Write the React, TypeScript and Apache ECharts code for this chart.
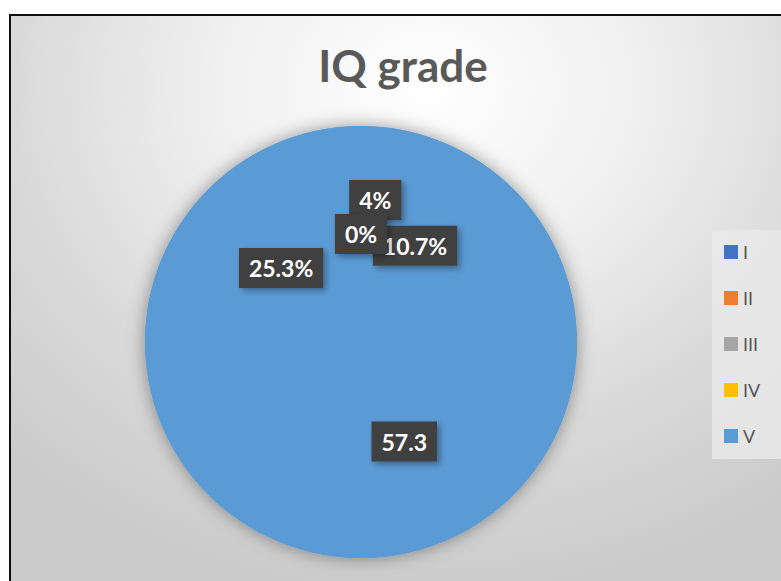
import React, { useEffect, useRef } from "react";
import * as echarts from "echarts";

const categories = ["I", "II", "III", "IV", "V"];
// slice order as drawn clockwise from 12 o'clock
const sliceNames = ["I", "II", "III", "IV", "V"];
const sliceValues = [4, 10.7, 57.3, 25.3, 0];
const sliceLabels = ["4%", "10.7%", "57.3", "25.3%", "0%"];
const legendColors = ["#4472C4", "#ED7D31", "#A5A5A5", "#FFC000", "#5B9BD5"];
const pieColor = "#5B9BD5";
const labelOffsets: Record<number, number[]> = {
  0: [0, -32],
  1: [-9, -5],
  2: [6, -5],
  3: [1, 2],
};

const CX = 361;
const CY = 342;
const R = 216;

const labelStyle = {
  fontFamily: "Lato",
  fontWeight: "bold",
  fontSize: 23,
  color: "#ffffff",
  backgroundColor: "#404040",
  padding: [9, 10, 8, 10],
  shadowBlur: 6,
  shadowOffsetX: 3,
  shadowOffsetY: 3,
  shadowColor: "rgba(0,0,0,0.35)",
};

export default function App() {
  const ref = useRef<HTMLDivElement>(null);
  useEffect(() => {
    if (!ref.current) return;
    const chart = echarts.init(ref.current, null, { renderer: "svg" });
    const total = sliceValues.reduce((a, b) => a + b, 0);

    // ECharts 6 hides labels of zero-valued sectors; place them at the sector's mid angle.
    const zeroLabels: any[] = [];
    let cum = 0;
    sliceValues.forEach((v, i) => {
      const mid = cum + v / 2;
      cum += v;
      if (v === 0) {
        const ang = ((90 - (360 * mid) / total) * Math.PI) / 180;
        zeroLabels.push({
          type: "text",
          z: 100,
          silent: true,
          x: CX + (R / 2) * Math.cos(ang),
          y: CY - (R / 2) * Math.sin(ang),
          style: {
            text: sliceLabels[i],
            align: "center",
            verticalAlign: "middle",
            fill: labelStyle.color,
            fontFamily: labelStyle.fontFamily,
            fontWeight: "bold",
            fontSize: labelStyle.fontSize,
            backgroundColor: labelStyle.backgroundColor,
            padding: labelStyle.padding,
            shadowBlur: labelStyle.shadowBlur,
            shadowOffsetX: labelStyle.shadowOffsetX,
            shadowOffsetY: labelStyle.shadowOffsetY,
            shadowColor: labelStyle.shadowColor,
          },
        });
      }
    });

    chart.setOption({
      animation: false,
      backgroundColor: "transparent",
      title: {
        text: "IQ grade",
        left: 398,
        top: 38,
        textAlign: "center",
        textStyle: {
          fontFamily: "Lato",
          fontWeight: "bold",
          fontSize: 44,
          color: "#595959",
        },
      },
      legend: {
        orient: "vertical",
        left: 712,
        top: 230,
        padding: [13, 24, 14, 12],
        itemGap: 28,
        itemWidth: 14,
        itemHeight: 14,
        backgroundColor: "rgba(235,235,235,0.75)",
        icon: "rect",
        textStyle: {
          fontFamily: "Lato",
          fontSize: 18,
          color: "#555555",
          lineHeight: 17,
        },
        data: categories.map((c, i) => ({
          name: c,
          itemStyle: { color: legendColors[i] },
        })),
      },
      graphic: { elements: zeroLabels },
      series: [
        {
          type: "pie",
          name: "shadow",
          silent: true,
          z: 1,
          center: [CX, CY],
          radius: R,
          label: { show: false },
          labelLine: { show: false },
          legendHoverLink: false,
          itemStyle: {
            color: pieColor,
            shadowBlur: 18,
            shadowColor: "rgba(0,0,0,0.4)",
          },
          data: [{ name: "_all", value: total }],
        },
        {
          type: "pie",
          name: "IQ grade",
          z: 3,
          center: [CX, CY],
          radius: R,
          startAngle: 90,
          clockwise: true,
          avoidLabelOverlap: false,
          itemStyle: { color: pieColor, borderWidth: 0 },
          labelLine: { show: false },
          label: {
            show: true,
            position: "inside",
            ...labelStyle,
          },
          emphasis: { disabled: true },
          data: sliceValues.map((v, i) => ({
            name: sliceNames[i],
            value: v,
            label: {
              formatter: sliceLabels[i],
              ...(labelOffsets[i] ? { offset: labelOffsets[i] } : {}),
            },
          })),
        },
      ],
    });
    return () => chart.dispose();
  }, []);

  return (
    <div
      style={{
        position: "fixed",
        left: 0,
        top: 0,
        width: 781,
        height: 581,
        background: "#ffffff",
        overflow: "hidden",
      }}
    >
      <div
        style={{
          position: "absolute",
          left: 9,
          top: 14,
          width: 800,
          height: 600,
          borderLeft: "2px solid #111",
          borderTop: "2px solid #111",
          background:
            "radial-gradient(ellipse 75% 85% at 52% 12%, #ffffff 0%, #f0f0f0 35%, #d9d9d9 70%, #cbcbcb 100%)",
        }}
      />
      <div
        ref={ref}
        style={{ position: "absolute", left: 0, top: 0, width: 781, height: 581 }}
      />
    </div>
  );
}
